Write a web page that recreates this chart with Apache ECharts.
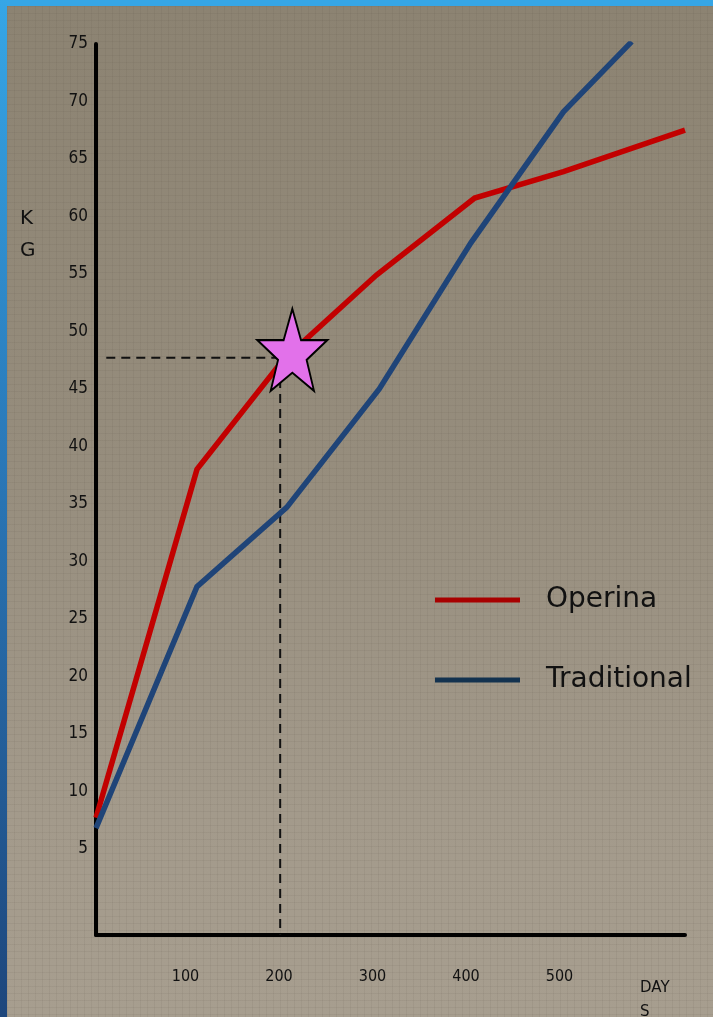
<!DOCTYPE html>
<html>
<head>
<meta charset="utf-8">
<script src="https://cdn.jsdelivr.net/npm/echarts@6/dist/echarts.min.js"></script>
<style>
  html, body { margin: 0; padding: 0; }
  body { width: 713px; height: 1017px; position: relative; overflow: hidden; background: #36a6e6; }
  #edgeLeft { position: absolute; left: 0; top: 0; width: 7px; height: 1017px;
    background: linear-gradient(to bottom, #36a6e6 0%, #2a78b8 45%, #1d467c 100%); }
  #paper { position: absolute; left: 7px; top: 6px; width: 706px; height: 1011px;
    background:
      repeating-linear-gradient(to right, rgba(70,60,50,0.07) 0 1px, transparent 1px 7px),
      repeating-linear-gradient(to bottom, rgba(70,60,50,0.07) 0 1px, transparent 1px 7px),
      linear-gradient(to bottom, #8c8372 0%, #968d7d 45%, #a39a8b 80%, #a79e8f 100%); }
  #chart { position: absolute; left: 0; top: 0; width: 713px; height: 1017px; }
</style>
</head>
<body>
<div id="edgeLeft"></div>
<div id="paper"></div>
<div id="chart"></div>
<script>
// Weight (kg) against age (days) for the two rearing systems
const operinaDays = [0, 108, 200, 300, 405, 500, 630];
const operinaKg   = [7.7, 38.0, 47.5, 54.9, 61.6, 63.9, 67.5];

const traditionalDays = [0, 108, 204, 303, 401, 500, 573];
const traditionalKg   = [6.8, 27.8, 34.7, 45.0, 57.7, 69.1, 75.2];

// Reading guide: across from the weight axis, then down to the day axis
const guideDays = [11, 197, 197];
const guideKg   = [47.7, 47.7, -2.5];

// Highlighted point on the Operina curve
const starPoint = [210, 48.4];

const yTicks = [5, 10, 15, 20, 25, 30, 35, 40, 45, 50, 55, 60, 65, 70, 75];
const xTicks = [100, 200, 300, 400, 500];

const pairs = (xs, ys) => xs.map((x, i) => [x, ys[i]]);

const starPath = 'path://M50 0 L61.8 34.5 L97.55 34.55 L69.4 56.3 L79.39 90.45 L50 70.5 L20.61 90.45 L30.6 56.3 L2.45 34.55 L38.2 34.5 Z';

const labelFont = '"Liberation Sans Narrow", "DejaVu Sans Condensed", "DejaVu Sans", sans-serif';

const chart = echarts.init(document.getElementById('chart'), null, { renderer: 'canvas' });
chart.setOption({
  backgroundColor: 'transparent',
  animation: false,
  title: [
    { text: 'K\nG', left: 20, top: 203, padding: 0,
      textStyle: { fontFamily: 'DejaVu Sans', fontSize: 20, lineHeight: 32, fontWeight: 'normal', color: '#111' } },
    { text: 'DAY\nS', left: 640, top: 976, padding: 0,
      textStyle: { fontFamily: 'DejaVu Sans', fontSize: 15, lineHeight: 24, fontWeight: 'normal', color: '#111' } }
  ],
  legend: {
    orient: 'vertical',
    left: 435,
    top: 585,
    padding: 0,
    itemWidth: 85,
    itemHeight: 5,
    itemGap: 50,
    icon: 'rect',
    textStyle: { fontFamily: 'DejaVu Sans', fontSize: 28, lineHeight: 30, color: '#111', padding: [0, 0, 0, 21] },
    data: [
      { name: 'Operina', itemStyle: { color: '#a80000' } },
      { name: 'Traditional', itemStyle: { color: '#13324f' } }
    ]
  },
  grid: { left: 96, right: 28, top: 44, bottom: 82, containLabel: false },
  xAxis: {
    type: 'value',
    min: 0,
    max: 630,
    axisLine: { show: true, onZero: false, lineStyle: { color: '#000', width: 4 } },
    axisTick: { show: false },
    splitLine: { show: false },
    axisLabel: {
      customValues: xTicks,
      margin: 34,
      fontFamily: labelFont,
      fontSize: 16,
      color: '#111',
      padding: [0, 8, 0, 0]
    }
  },
  yAxis: {
    type: 'value',
    min: -2.5,
    max: 75,
    axisLine: { show: true, onZero: false, lineStyle: { color: '#000', width: 4 } },
    axisTick: { show: false },
    splitLine: { show: false },
    axisLabel: {
      customValues: yTicks,
      margin: 8,
      fontFamily: labelFont,
      fontSize: 17,
      color: '#111',
      padding: [0, 0, 16, 0]
    }
  },
  series: [
    {
      name: 'guide',
      type: 'line',
      data: pairs(guideDays, guideKg),
      symbol: 'none',
      silent: true,
      z: 1,
      lineStyle: { color: '#111', width: 2, type: [9, 6] }
    },
    {
      name: 'Operina',
      type: 'line',
      data: pairs(operinaDays, operinaKg),
      symbol: 'none',
      z: 3,
      lineStyle: { color: '#c20000', width: 5.5, join: 'miter' },
      itemStyle: { color: '#c20000' }
    },
    {
      name: 'Traditional',
      type: 'line',
      data: pairs(traditionalDays, traditionalKg),
      symbol: 'none',
      z: 4,
      lineStyle: { color: '#1f4478', width: 5.5, join: 'miter' },
      itemStyle: { color: '#1f4478' }
    },
    {
      name: 'highlight',
      type: 'scatter',
      data: [starPoint],
      symbol: starPath,
      symbolSize: [70, 82],
      z: 10,
      itemStyle: { color: '#e271ea', borderColor: '#000', borderWidth: 2, opacity: 1 }
    }
  ]
});
</script>
</body>
</html>
